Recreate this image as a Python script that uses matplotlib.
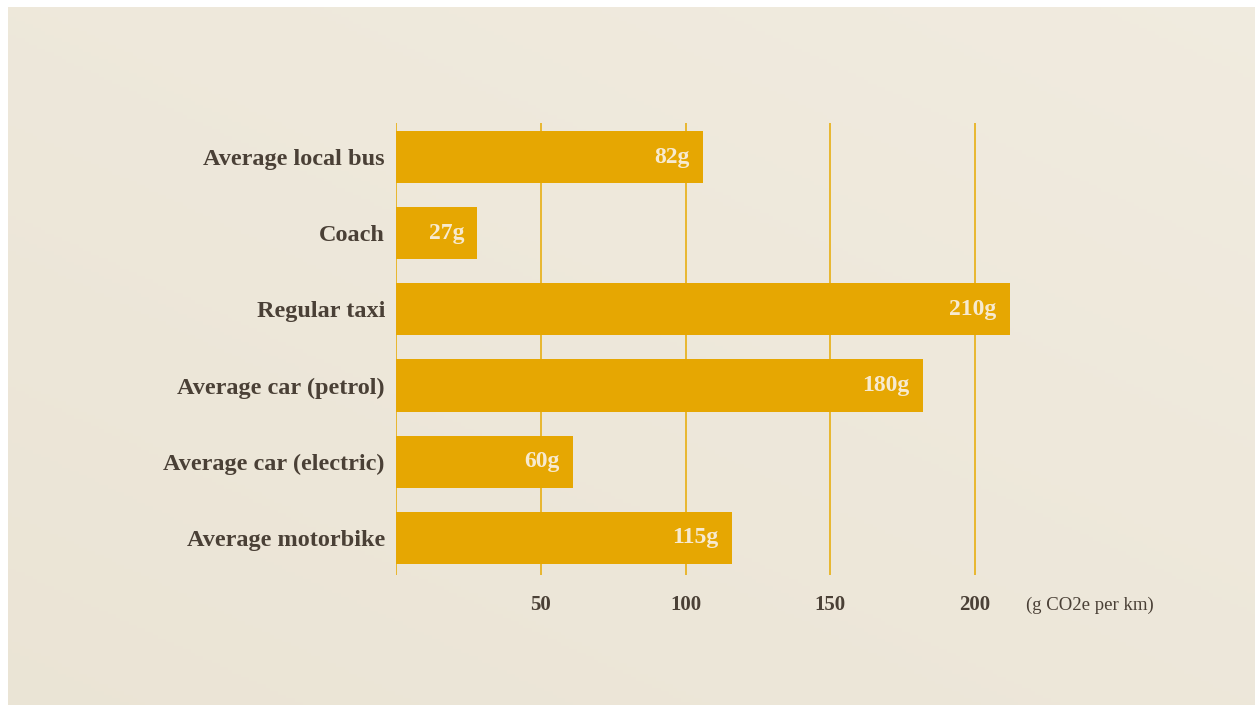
import numpy as np
import matplotlib
matplotlib.use('Agg')
import matplotlib.pyplot as plt

# data (bar lengths as drawn, labels as printed)
categories = ['Average local bus', 'Coach', 'Regular taxi', 'Average car (petrol)',
              'Average car (electric)', 'Average motorbike']
bar_lengths = [106, 28, 212, 182, 61, 116]
value_labels = ['82g', '27g', '210g', '180g', '60g', '115g']
ticks = [50, 100, 150, 200]
tick_labels = ['50', '100', '150', '200']
unit_label = '(g CO2e per km)'

GOLD = '#e6a702'
GRID = '#e8b322'
TEXT = '#4a4036'
CREAM = '#f7ead0'

plt.rcParams['font.family'] = ['Liberation Serif', 'DejaVu Serif']

fig = plt.figure(figsize=(12.55, 7.05), dpi=100)
fig.patch.set_facecolor('white')

# parchment background (white strip on top/left like the screenshot)
bg = fig.add_axes([8 / 1255, 0, 1 - 8 / 1255, 1 - 7 / 705])
yy, xx = np.mgrid[0:1:200j, 0:1:300j]
shade = 0.55 + 0.25 * xx - 0.3 * yy
bg.imshow(shade, cmap=matplotlib.colors.LinearSegmentedColormap.from_list(
    'p', ['#e8e1d1', '#f3eee3']), aspect='auto', extent=[0, 1, 0, 1], vmin=0, vmax=1)
bg.axis('off')

left = 396 / 1255
px_per_unit = (975 - 396) / 200
xmax = 240
ax = fig.add_axes([left, 1 - 575 / 705, xmax * px_per_unit / 1255, (575 - 123) / 705])
ax.patch.set_alpha(0)

y = np.arange(len(categories))
ax.barh(y, bar_lengths, height=0.685, color=GOLD, zorder=2)

for t in [0] + ticks:
    ax.axvline(t, color=GRID, lw=1.3, zorder=1)

for yi, length, lab in zip(y, bar_lengths, value_labels):
    ax.text(length - 4.5, yi, lab, ha='right', va='center', color=CREAM,
            fontsize=17, fontweight='bold', zorder=3)

ax.set_xlim(0, xmax)
ax.set_ylim(len(categories) - 0.51, -0.45)
for s in ax.spines.values():
    s.set_visible(False)
ax.set_xticks([])
ax.set_yticks(y)
ax.set_yticklabels(categories, fontsize=17.5, fontweight='bold', color=TEXT)
ax.tick_params(axis='y', length=0, pad=8)

# x tick labels sit well below the grid
for t, lab in zip(ticks, tick_labels):
    ax.text(t, len(categories) - 0.51 + 0.4, lab, ha='center', va='center',
            fontsize=15, color=TEXT, fontweight='bold')
ax.text(217.5, len(categories) - 0.51 + 0.4, unit_label, ha='left', va='center',
        fontsize=13.5, color=TEXT)

fig.savefig('out.png', dpi=100, facecolor=fig.get_facecolor())
